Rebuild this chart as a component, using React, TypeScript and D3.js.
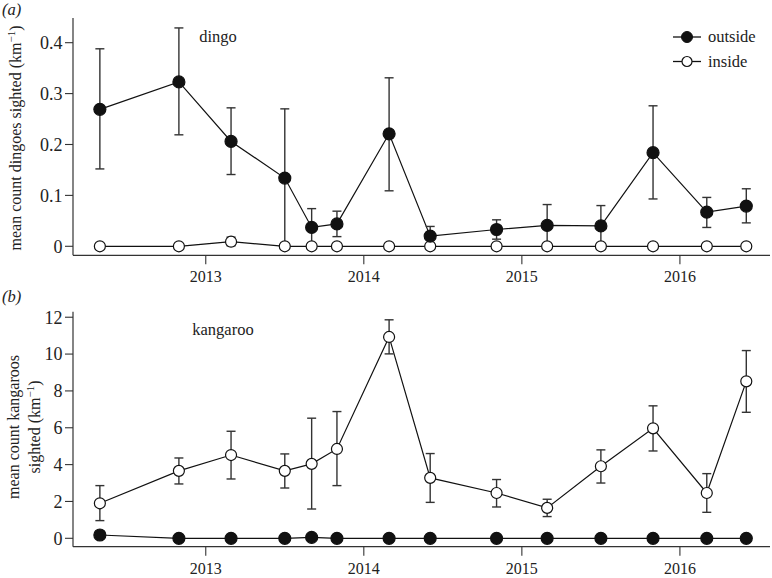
import React from "react";
import * as d3 from "d3";

const dates = [2012.33, 2012.83, 2013.16, 2013.5, 2013.67, 2013.83, 2014.16, 2014.42, 2014.84, 2015.16, 2015.5, 2015.83, 2016.17, 2016.42];
const xTicks = [2013, 2014, 2015, 2016];

const dingoOutside = [0.269, 0.323, 0.206, 0.134, 0.037, 0.044, 0.221, 0.02, 0.033, 0.041, 0.04, 0.184, 0.067, 0.079];
const dingoOutsideLo = [0.152, 0.219, 0.141, 0.0, 0.0, 0.019, 0.109, 0.001, 0.014, 0.0, 0.0, 0.093, 0.037, 0.046];
const dingoOutsideHi = [0.388, 0.429, 0.272, 0.27, 0.074, 0.069, 0.331, 0.039, 0.052, 0.082, 0.08, 0.276, 0.096, 0.113];
const dingoInside = [0, 0, 0.009, 0, 0, 0, 0, 0, 0, 0, 0, 0, 0, 0];
const dingoInsideLo = [0, 0, 0.001, 0, 0, 0, 0, 0, 0, 0, 0, 0, 0, 0];
const dingoInsideHi = [0, 0, 0.018, 0, 0, 0, 0, 0, 0, 0, 0, 0, 0, 0];
const dingoTicks = [0, 0.1, 0.2, 0.3, 0.4];

const kangInside = [1.9, 3.66, 4.52, 3.66, 4.04, 4.85, 10.93, 3.28, 2.46, 1.65, 3.91, 5.97, 2.46, 8.52];
const kangInsideLo = [0.96, 2.95, 3.22, 2.73, 1.59, 2.86, 10.01, 1.95, 1.7, 1.18, 3.0, 4.74, 1.41, 6.84];
const kangInsideHi = [2.86, 4.36, 5.81, 4.58, 6.52, 6.88, 11.86, 4.6, 3.19, 2.12, 4.8, 7.19, 3.51, 10.19];
const kangOutside = [0.18, 0, 0, 0, 0.05, 0, 0, 0, 0, 0, 0, 0, 0, 0];
const kangOutsideLo = [0.09, 0, 0, 0, 0.05, 0, 0, 0, 0, 0, 0, 0, 0, 0];
const kangOutsideHi = [0.27, 0, 0, 0, 0.05, 0, 0, 0, 0, 0, 0, 0, 0, 0];
const kangTicks = [0, 2, 4, 6, 8, 10, 12];

const FONT = "'Liberation Serif', 'Times New Roman', serif";
const TXT = "#222";

const x = d3.scaleLinear().domain([2012.16, 2016.57]).range([73, 770]);

type Series = { v: number[]; lo: number[]; hi: number[]; filled: boolean };

function Panel({
  y,
  ticks,
  tickFmt,
  series,
}: {
  y: d3.ScaleLinear<number, number>;
  ticks: number[];
  tickFmt: (d: number) => string;
  series: Series[];
}) {
  const [yb, yt] = y.range();
  const line = d3
    .line<number>()
    .x((_, i) => x(dates[i]))
    .y((d) => y(d));
  return (
    <g>
      <line x1={73} x2={73} y1={yt} y2={yb} stroke="#333" strokeWidth={1.2} />
      <line x1={73} x2={770} y1={yb} y2={yb} stroke="#333" strokeWidth={1.2} />
      {ticks.map((t) => (
        <g key={t}>
          <line x1={65} x2={73} y1={y(t)} y2={y(t)} stroke="#333" strokeWidth={1.1} />
          <text x={62.5} y={y(t)} dy="0.35em" textAnchor="end" fontFamily={FONT} fontSize={18} fill={TXT}>
            {tickFmt(t)}
          </text>
        </g>
      ))}
      {xTicks.map((t) => (
        <g key={t}>
          <line x1={x(t)} x2={x(t)} y1={yb} y2={yb + 9} stroke="#333" strokeWidth={1.1} />
          <text x={x(t)} y={yb + 27} textAnchor="middle" fontFamily={FONT} fontSize={16} fill={TXT}>
            {t}
          </text>
        </g>
      ))}
      {series.map((s, si) => (
        <path key={"l" + si} d={line(s.v) || ""} fill="none" stroke="#111" strokeWidth={1.2} />
      ))}
      {series.map((s, si) => (
        <g key={"e" + si}>
          {s.v.map((_, i) =>
            s.hi[i] - s.lo[i] > 0.0001 ? (
              <g key={i} stroke="#333" strokeWidth={1.4}>
                <line x1={x(dates[i])} x2={x(dates[i])} y1={y(s.lo[i])} y2={y(s.hi[i])} />
                <line x1={x(dates[i]) - 4.5} x2={x(dates[i]) + 4.5} y1={y(s.lo[i])} y2={y(s.lo[i])} />
                <line x1={x(dates[i]) - 4.5} x2={x(dates[i]) + 4.5} y1={y(s.hi[i])} y2={y(s.hi[i])} />
              </g>
            ) : null
          )}
        </g>
      ))}
      {series.map((s, si) => (
        <g key={"m" + si}>
          {s.v.map((d, i) => (
            <circle
              key={i}
              cx={x(dates[i])}
              cy={y(d)}
              r={s.filled ? 6 : 5.5}
              fill={s.filled ? "#111" : "#fff"}
              stroke="#111"
              strokeWidth={1.2}
            />
          ))}
        </g>
      ))}
    </g>
  );
}

export default function App() {
  const yTop = d3.scaleLinear().domain([-0.0177, 0.4485]).range([255.3, 18]);
  const yBot = d3.scaleLinear().domain([-0.456, 12.3]).range([546.7, 311.7]);
  return (
    <svg width={772} height={578} style={{ position: "absolute", left: 0, top: 0, background: "#fff" }}>
      <rect width={772} height={578} fill="#fff" />
      <text x={2} y={15} fontFamily={FONT} fontStyle="italic" fontSize={16.5} fill={TXT}>
        (a)
      </text>
      <text x={2} y={302} fontFamily={FONT} fontStyle="italic" fontSize={16.5} fill={TXT}>
        (b)
      </text>
      <text x={218} y={42} textAnchor="middle" fontFamily={FONT} fontSize={16.5} fill={TXT}>
        dingo
      </text>
      <text x={223} y={335} textAnchor="middle" fontFamily={FONT} fontSize={16.5} fill={TXT}>
        kangaroo
      </text>
      <text transform="translate(21,138) rotate(-90)" textAnchor="middle" fontFamily={FONT} fontSize={16} fill={TXT}>
        mean count dingoes sighted (km<tspan fontSize={11} dy={-6}>−1</tspan>
        <tspan dy={6}>)</tspan>
      </text>
      <text transform="translate(19,427) rotate(-90)" textAnchor="middle" fontFamily={FONT} fontSize={16} fill={TXT}>
        mean count kangaroos
      </text>
      <text transform="translate(40,427) rotate(-90)" textAnchor="middle" fontFamily={FONT} fontSize={16} fill={TXT}>
        sighted (km<tspan fontSize={11} dy={-6}>−1</tspan>
        <tspan dy={6}>)</tspan>
      </text>

      <Panel
        y={yTop}
        ticks={dingoTicks}
        tickFmt={(d) => (d === 0 ? "0" : d3.format(".1f")(d))}
        series={[
          { v: dingoInside, lo: dingoInsideLo, hi: dingoInsideHi, filled: false },
          { v: dingoOutside, lo: dingoOutsideLo, hi: dingoOutsideHi, filled: true },
        ]}
      />
      <Panel
        y={yBot}
        ticks={kangTicks}
        tickFmt={(d) => String(d)}
        series={[
          { v: kangOutside, lo: kangOutsideLo, hi: kangOutsideHi, filled: true },
          { v: kangInside, lo: kangInsideLo, hi: kangInsideHi, filled: false },
        ]}
      />

      <g>
        <line x1={673} x2={701} y1={37} y2={37} stroke="#111" strokeWidth={1.3} />
        <circle cx={687} cy={37} r={5.5} fill="#111" stroke="#111" />
        <text x={708} y={42} fontFamily={FONT} fontSize={16.5} fill={TXT}>
          outside
        </text>
        <line x1={673} x2={701} y1={61.5} y2={61.5} stroke="#111" strokeWidth={1.3} />
        <circle cx={687} cy={61.5} r={5} fill="#fff" stroke="#111" strokeWidth={1.2} />
        <text x={708} y={66.5} fontFamily={FONT} fontSize={16.5} fill={TXT}>
          inside
        </text>
      </g>
    </svg>
  );
}
